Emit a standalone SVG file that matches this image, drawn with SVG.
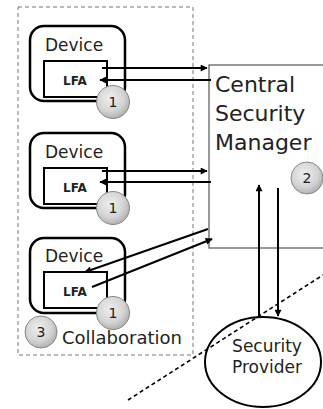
<svg xmlns="http://www.w3.org/2000/svg" width="323" height="409" viewBox="0 0 323 409">
  <defs>
    <radialGradient id="badgeFill" cx="0.42" cy="0.38" r="0.68">
      <stop offset="0" stop-color="#efefef"/>
      <stop offset="0.6" stop-color="#d4d4d4"/>
      <stop offset="1" stop-color="#a8a8a8"/>
    </radialGradient>
    <marker id="arrow" viewBox="0 0 10 10" refX="9" refY="5" markerWidth="9" markerHeight="7" markerUnits="userSpaceOnUse" orient="auto">
      <path d="M0,0 L10,5 L0,10 z" fill="#000"/>
    </marker>
    <style>
      .device { fill: #fff; stroke: #000; stroke-width: 2.5; }
      .lfa { fill: #fff; stroke: #000; stroke-width: 2; }
      .label { font-family: "DejaVu Sans", sans-serif; fill: #222; }
      .dev-text { font-size: 17px; }
      .lfa-text { font-size: 12px; font-weight: bold; text-anchor: middle; }
      .badge { fill: url(#badgeFill); stroke: #888; stroke-width: 1; }
      .badge-text { font-family: "DejaVu Sans", sans-serif; font-size: 14px; fill: #222; text-anchor: middle; }
      .link { stroke: #000; stroke-width: 2; fill: none; marker-end: url(#arrow); }
    </style>
  </defs>

  <rect width="323" height="409" fill="#fff"/>

  <!-- collaboration boundary -->
  <g id="collaboration">
    <rect x="18" y="7" width="175" height="348" fill="none" stroke="#777" stroke-width="1" stroke-dasharray="4 3"/>
    <text class="label" x="62" y="344" font-size="18">Collaboration</text>
  </g>

  <!-- central manager -->
  <g id="central-manager">
    <rect x="209" y="65" width="130" height="183" fill="#fff" stroke="#555" stroke-width="1.2"/>
    <text class="label" x="215" y="92" font-size="22">Central</text>
    <text class="label" x="215" y="121" font-size="22">Security</text>
    <text class="label" x="215" y="150" font-size="22">Manager</text>
  </g>

  <!-- security provider -->
  <g id="security-provider">
    <ellipse cx="263" cy="362" rx="58" ry="45" fill="#fff" stroke="#000" stroke-width="2"/>
    <text class="label" x="267" y="352" font-size="17" text-anchor="middle">Security</text>
    <text class="label" x="267" y="373" font-size="17" text-anchor="middle">Provider</text>
  </g>

  <!-- devices -->
  <g id="device-1">
    <rect class="device" x="30" y="26" width="95" height="75" rx="14"/>
    <text class="label dev-text" x="45" y="51">Device</text>
    <rect class="lfa" x="44" y="61" width="63" height="36"/>
    <text class="label lfa-text" x="75" y="85">LFA</text>
  </g>
  <g id="device-2">
    <rect class="device" x="30" y="133" width="95" height="75" rx="14"/>
    <text class="label dev-text" x="45" y="158">Device</text>
    <rect class="lfa" x="44" y="168" width="63" height="36"/>
    <text class="label lfa-text" x="75" y="192">LFA</text>
  </g>
  <g id="device-3">
    <rect class="device" x="30" y="238" width="95" height="75" rx="14"/>
    <text class="label dev-text" x="45" y="262">Device</text>
    <rect class="lfa" x="44" y="272" width="63" height="36"/>
    <text class="label lfa-text" x="75" y="296">LFA</text>
  </g>

  <!-- connectors -->
  <g id="connectors">
    <line class="link" x1="102" y1="68" x2="207" y2="68"/>
    <line class="link" x1="211" y1="80" x2="100" y2="80"/>
    <line class="link" x1="102" y1="171" x2="207" y2="171"/>
    <line class="link" x1="211" y1="182" x2="100" y2="182"/>
    <line class="link" x1="208" y1="229" x2="85" y2="272"/>
    <line class="link" x1="92" y1="287" x2="212" y2="239"/>
    <line class="link" x1="259" y1="318" x2="259" y2="185"/>
    <line class="link" x1="278" y1="188" x2="278" y2="316"/>
  </g>

  <!-- boundary line -->
  <line id="boundary" x1="128" y1="400" x2="323" y2="275" stroke="#000" stroke-width="1.6" stroke-dasharray="4 3"/>

  <!-- numbered badges -->
  <g id="badge-1a"><circle class="badge" cx="113" cy="102" r="16.5"/><text class="badge-text" x="113" y="107">1</text></g>
  <g id="badge-1b"><circle class="badge" cx="113" cy="208" r="16.5"/><text class="badge-text" x="113" y="213">1</text></g>
  <g id="badge-1c"><circle class="badge" cx="113" cy="313" r="16.5"/><text class="badge-text" x="113" y="318">1</text></g>
  <g id="badge-2"><circle class="badge" cx="307" cy="178" r="16"/><text class="badge-text" x="307" y="183">2</text></g>
  <g id="badge-3"><circle class="badge" cx="41" cy="332" r="16"/><text class="badge-text" x="41" y="337">3</text></g>
</svg>
